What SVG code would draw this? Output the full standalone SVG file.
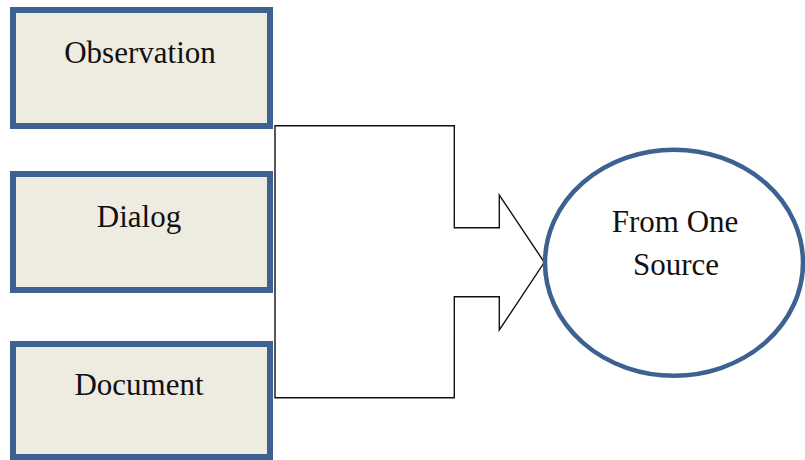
<svg xmlns="http://www.w3.org/2000/svg" width="805" height="460" viewBox="0 0 805 460">
<style>
.box{fill:#eeebe0;stroke:#3d6291;stroke-width:6}
.lbl{font-family:'Liberation Serif','DejaVu Serif',serif;font-size:31px;fill:#111;text-anchor:middle}
.conn{fill:#fff;stroke:#111;stroke-width:1.4;stroke-linejoin:miter}
.oval{fill:#fff;stroke:#3d6291;stroke-width:4.5}
</style>
<rect width="805" height="460" fill="#fff"/>
<g id="connectors">
<path class="conn" d="M275,125.7 H454.3 V227.7 H499.3 V195 L544.3,262.3 L499.3,330 V296.7 H454.3 V397.7 H275 Z"/>
</g>
<g id="observation">
<rect class="box" x="13" y="10" width="257" height="116"/>
<text class="lbl" x="140" y="62.7">Observation</text>
</g>
<g id="dialog">
<rect class="box" x="13" y="174" width="257" height="116"/>
<text class="lbl" x="139" y="226.7">Dialog</text>
</g>
<g id="document">
<rect class="box" x="13" y="344" width="257" height="113"/>
<text class="lbl" x="139" y="395">Document</text>
</g>
<g id="from-one-source">
<ellipse class="oval" cx="674" cy="262.7" rx="129" ry="113"/>
<text class="lbl" x="675" y="231.7">From One</text>
<text class="lbl" x="676" y="275">Source</text>
</g>
</svg>
